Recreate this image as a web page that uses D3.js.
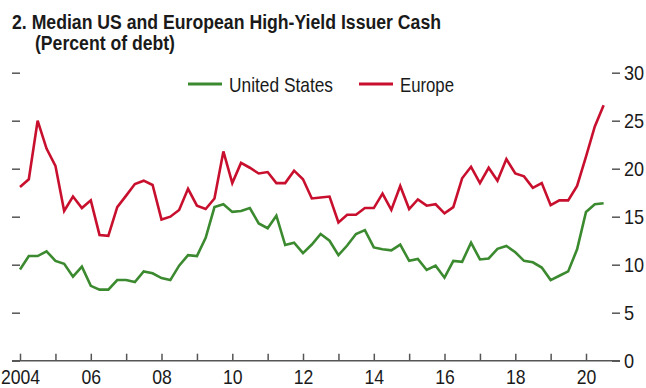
<!DOCTYPE html>
<html>
<head>
<meta charset="utf-8">
<script src="https://cdn.jsdelivr.net/npm/d3@7/dist/d3.min.js"></script>
<style>
  html, body { margin: 0; padding: 0; background: #fff; }
  svg { display: block; }
  text { font-family: "Liberation Sans", Arial, Helvetica, sans-serif; fill: #1a1a1a; }
</style>
</head>
<body>
<svg id="chart" width="646" height="388"></svg>
<script>
// Quarterly observations, 2004:Q1 – 2020:Q3
const quarters = d3.range(67).map(i => new Date(2004, i * 3, 1));

// Median cash of high-yield issuers, percent of debt
const unitedStates = [
  9.5, 10.9, 10.9, 11.4, 10.4, 10.1, 8.75, 9.8, 7.8, 7.4, 7.4, 8.4, 8.4, 8.2, 9.3, 9.1,
  8.6, 8.4, 9.9, 11.0, 10.9, 12.8, 16.0, 16.3, 15.5, 15.6, 15.9, 14.3, 13.8, 15.1, 12.05, 12.3,
  11.2, 12.1, 13.2, 12.5, 11.0, 12.0, 13.2, 13.6, 11.8, 11.6, 11.5, 12.1, 10.4, 10.6, 9.45, 9.9,
  8.65, 10.4, 10.3, 12.3, 10.55, 10.65, 11.65, 11.95, 11.3, 10.4, 10.25, 9.7, 8.4, 8.85, 9.3, 11.6,
  15.5, 16.3, 16.4
];
const europe = [
  18.1, 18.9, 25.0, 22.1, 20.3, 15.6, 17.1, 15.9, 16.7, 13.1, 13.0, 16.0, 17.2, 18.4, 18.75, 18.3,
  14.7, 15.0, 15.7, 17.9, 16.15, 15.8, 16.9, 21.8, 18.5, 20.6, 20.1, 19.5, 19.65, 18.5, 18.5, 19.8,
  18.9, 16.9, 17.0, 17.1, 14.4, 15.2, 15.2, 15.9, 15.9, 17.4, 15.7, 18.2, 15.8, 16.8, 16.15, 16.3,
  15.35, 16.0, 19.0, 20.2, 18.5, 20.1, 18.75, 21.0, 19.5, 19.2, 18.0, 18.5, 16.2, 16.7, 16.7, 18.2,
  21.25, 24.4, 26.6
];

const yTicks = [0, 5, 10, 15, 20, 25, 30];
const seriesNames = ["United States", "Europe"];
const colors = { "United States": "#3b8a2f", "Europe": "#c8102e" };

const svg = d3.select("#chart");

// Squeeze text horizontally to give the narrow, condensed look
function condense(sel, factor) {
  sel.each(function () {
    const w = this.getComputedTextLength();
    this.setAttribute("textLength", (w * factor).toFixed(1));
    this.setAttribute("lengthAdjust", "spacingAndGlyphs");
  });
}
function fitWidth(sel, width) {
  sel.attr("textLength", width).attr("lengthAdjust", "spacingAndGlyphs");
}

const x = d3.scaleTime()
  .domain([new Date(2004, 0, 1), new Date(2020, 0, 1)])
  .range([20, 586]);
const y = d3.scaleLinear().domain([0, 30]).range([360.7, 72.7]);

// Title
svg.append("text").attr("x", 12).attr("y", 29)
  .style("font-size", "20px").style("font-weight", "bold")
  .text("2. Median US and European High-Yield Issuer Cash")
  .call(fitWidth, 429);
svg.append("text").attr("x", 35).attr("y", 50)
  .style("font-size", "20px").style("font-weight", "bold")
  .text("(Percent of debt)")
  .call(fitWidth, 140);

// Left-side tick marks (no labels)
const left = svg.append("g").attr("transform", "translate(12,0)")
  .call(d3.axisRight(y).tickValues(yTicks).tickSize(8).tickFormat(""));
left.select(".domain").remove();
left.selectAll("line").attr("stroke", "#555").attr("stroke-width", 1.5);

// Right axis with labels
const right = svg.append("g").attr("transform", "translate(612,0)")
  .call(d3.axisRight(y).tickValues(yTicks).tickSize(8).tickPadding(4));
right.select(".domain").remove();
right.selectAll("line").attr("stroke", "#555").attr("stroke-width", 1.5);
right.selectAll("text").style("font-size", "21px").attr("fill", "#1a1a1a")
  .call(condense, 0.86);

// Bottom axis: yearly ticks pointing up, labels every other year
const years = d3.range(2004, 2021).map(yr => new Date(yr, 0, 1));
const bottom = svg.append("g").attr("transform", `translate(0,${y(0)})`)
  .call(d3.axisBottom(x).tickValues(years).tickSize(-7).tickPadding(11)
    .tickFormat(d => {
      const yr = d.getFullYear();
      if (yr % 2 !== 0) return "";
      return yr === 2004 ? "2004" : d3.timeFormat("%y")(d);
    }));
bottom.select(".domain").remove();
bottom.selectAll("line").attr("stroke", "#555").attr("stroke-width", 1.5);
bottom.selectAll("text").style("font-size", "21px").attr("fill", "#1a1a1a")
  .attr("dy", "0.58em")
  .call(condense, 0.84);
svg.append("line")
  .attr("x1", 12).attr("x2", 620)
  .attr("y1", y(0)).attr("y2", y(0))
  .attr("stroke", "#555").attr("stroke-width", 1.5);

// Lines
const line = d3.line()
  .x((d, i) => x(quarters[i]))
  .y(d => y(d));

svg.append("path").datum(unitedStates)
  .attr("fill", "none").attr("stroke", colors["United States"])
  .attr("stroke-width", 2.6).attr("stroke-linejoin", "miter")
  .attr("d", line);
svg.append("path").datum(europe)
  .attr("fill", "none").attr("stroke", colors["Europe"])
  .attr("stroke-width", 2.6).attr("stroke-linejoin", "miter")
  .attr("d", line);

// Legend
const legendPos = [{ x: 188, tx: 229, w: 104 }, { x: 359, tx: 400, w: 54 }];
seriesNames.forEach((name, i) => {
  const p = legendPos[i];
  svg.append("line")
    .attr("x1", p.x).attr("x2", p.x + 34)
    .attr("y1", 84).attr("y2", 84)
    .attr("stroke", colors[name]).attr("stroke-width", 2.8);
  svg.append("text").attr("x", p.tx).attr("y", 91.5)
    .style("font-size", "21px").text(name)
    .call(fitWidth, p.w);
});
</script>
</body>
</html>
